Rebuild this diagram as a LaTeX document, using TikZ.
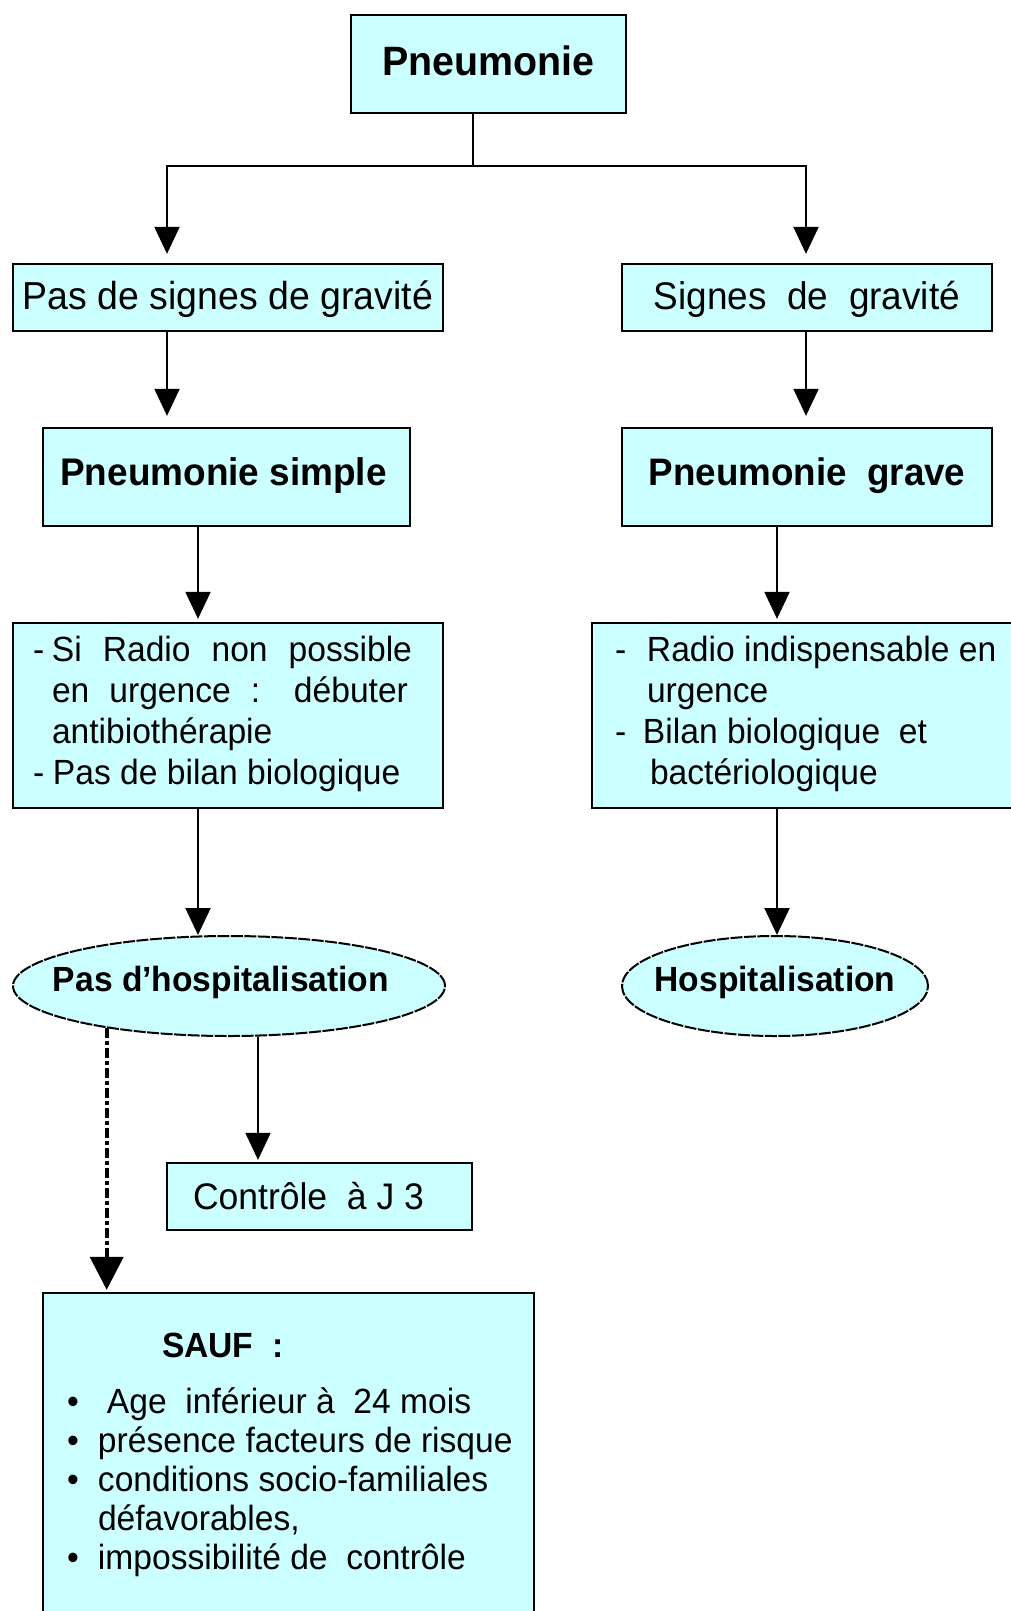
\documentclass[tikz,border=0pt]{standalone}
\usepackage{fontspec}
\setmainfont{Liberation Sans}[FakeStretch=0.96]
\usetikzlibrary{arrows.meta,shapes.geometric}
\definecolor{boxfill}{RGB}{204,255,255}
\begin{document}
\begin{tikzpicture}[x=1pt,y=-1pt,
  box/.style={draw=black, line width=2.3pt, fill=boxfill, rectangle, inner sep=0pt},
  oval/.style={draw=black, line width=2pt, fill=boxfill, ellipse, inner sep=0pt, dash pattern=on 12pt off 1.5pt},
  arr/.style={line width=2pt, -{Triangle[width=25pt,length=27pt]}},
  dashdot/.style={line width=4pt, dash pattern=on 10pt off 3pt on 4pt off 3pt, -{Triangle[width=33pt,length=33pt]}},
  plain/.style={line width=2pt}
  ]
\useasboundingbox (0,0) rectangle (1011,1611);
\clip (0,0) rectangle (1011,1611);
\fill[white] (0,0) rectangle (1011,1611);

% level 0
\node[box, minimum width=275pt, minimum height=98pt, text height=26pt, text depth=4pt,
  font=\bfseries\fontsize{41}{48}\selectfont] (P) at (488.5,64) {Pneumonie};

% level 1
\node[box, minimum width=430pt, minimum height=67pt, text height=27pt, text depth=4pt,
  font=\fontsize{39}{46}\selectfont] (PSG) at (228,297.5) {Pas de signes de gravité};
\node[box, minimum width=370pt, minimum height=67pt, text height=27pt, text depth=4pt,
  font=\fontsize{38.5}{46}\selectfont] (SG) at (807,297.5) {Signes\ \ de\ \ gravité};

% level 2
\node[box, minimum width=367pt, minimum height=98pt, text height=26.5pt, text depth=10.5pt,
  font=\bfseries\fontsize{38.5}{46}\selectfont] (PS) at (226.5,477) {Pneumonie simple\hspace*{6pt}};
\node[box, minimum width=370pt, minimum height=98pt, text height=26.5pt, text depth=10.5pt,
  font=\bfseries\fontsize{38.3}{46}\selectfont] (PG) at (807,477) {Pneumonie\ \ grave};

% level 3
\node[box, minimum width=430pt, minimum height=185pt, text height=0pt, text depth=109pt,
  font=\fontsize{35}{41.3}\selectfont] (T1) at (228,715.5) {\vtop{%
  \hbox{\makebox[390pt][l]{\makebox[19pt][l]{-}\makebox[360pt][s]{Si Radio non possible}}}
  \hbox{\makebox[390pt][l]{\hspace*{19pt}\makebox[356pt][s]{en urgence : débuter}}}
  \hbox{\makebox[390pt][l]{\hspace*{19pt}antibiothérapie}}
  \hbox{\makebox[390pt][l]{\makebox[20pt][l]{-}Pas de bilan biologique}}}};
\node[box, minimum width=448pt, minimum height=185pt, text height=0pt, text depth=109pt,
  font=\fontsize{35}{41.3}\selectfont] (T2) at (816,715.5) {\vtop{%
  \hbox{\makebox[402pt][l]{\makebox[32pt][l]{-}Radio indispensable en}}
  \hbox{\makebox[402pt][l]{\hspace*{32pt}urgence}}
  \hbox{\makebox[402pt][l]{\makebox[28pt][l]{-}Bilan biologique\ \ et}}
  \hbox{\makebox[402pt][l]{\hspace*{35pt}bactériologique}}}};

% ellipses
\node[oval, minimum width=432pt, minimum height=100pt, text height=24pt, text depth=14pt,
  font=\bfseries\fontsize{35}{42}\selectfont] (E1) at (229,986) {\makebox[0pt]{Pas d’hospitalisation\hspace*{16pt}}};
\node[oval, minimum width=306pt, minimum height=100pt, text height=24pt, text depth=14pt,
  font=\bfseries\fontsize{35}{42}\selectfont] (E2) at (775,986) {\makebox[0pt]{Hospitalisation}};

% control
\node[box, minimum width=305pt, minimum height=67pt, text height=25pt, text depth=0pt,
  font=\fontsize{37}{44}\selectfont] (C) at (319.5,1196.5) {Contrôle\ \ à J 3\hspace*{22pt}};

% SAUF
\node[box, minimum width=491pt, minimum height=357pt, text height=0pt, text depth=229pt,
  font=\fontsize{35}{39}\selectfont] (S) at (288.5,1471.5) {\vtop{%
  \hbox{\makebox[443pt][l]{\hspace*{95pt}\textbf{SAUF\ \ :}}}
  \vskip 17pt
  \hbox{\makebox[443pt][l]{\makebox[40pt][l]{•}Age\ \ inférieur à\ \ 24 mois}}
  \hbox{\makebox[443pt][l]{\makebox[31pt][l]{•}présence facteurs de risque}}
  \hbox{\makebox[443pt][l]{\makebox[31pt][l]{•}conditions socio-familiales}}
  \hbox{\makebox[443pt][l]{\hspace*{31pt}défavorables,}}
  \hbox{\makebox[443pt][l]{\makebox[31pt][l]{•}impossibilité de\ \ contrôle}}}};

% connectors
\coordinate (J) at (473,166);
\coordinate (JL) at (167,166);
\coordinate (JR) at (806,166);
\coordinate (XL) at (198,0);
\coordinate (XR) at (777,0);
\coordinate (XC) at (258,0);

\draw[plain] (P.south -| J) -- (J);
\draw[plain, line cap=rect] (JL) -- (JR);
\draw[arr, shorten >=9pt] (JL) -- (JL |- PSG.north);
\draw[arr, shorten >=9pt] (JR) -- (JR |- SG.north);
\draw[arr, shorten >=11pt] (PSG.south -| JL) -- (PS.north -| JL);
\draw[arr, shorten >=11pt] (SG.south -| JR) -- (PG.north -| JR);
\draw[arr, shorten >=3pt] (PS.south -| XL) -- (T1.north -| XL);
\draw[arr, shorten >=3pt] (PG.south -| XR) -- (T2.north -| XR);
\draw[arr] (T1.south -| XL) -- (XL |- E1.north);
\draw[arr] (T2.south -| XR) -- (XR |- E2.north);
\draw[arr, shorten >=2pt] (E1.south -| XC) -- (C.north -| XC);
\draw[dashdot, shorten >=2pt] (E1.199.5) -- (E1.199.5 |- S.north);
\end{tikzpicture}
\end{document}
